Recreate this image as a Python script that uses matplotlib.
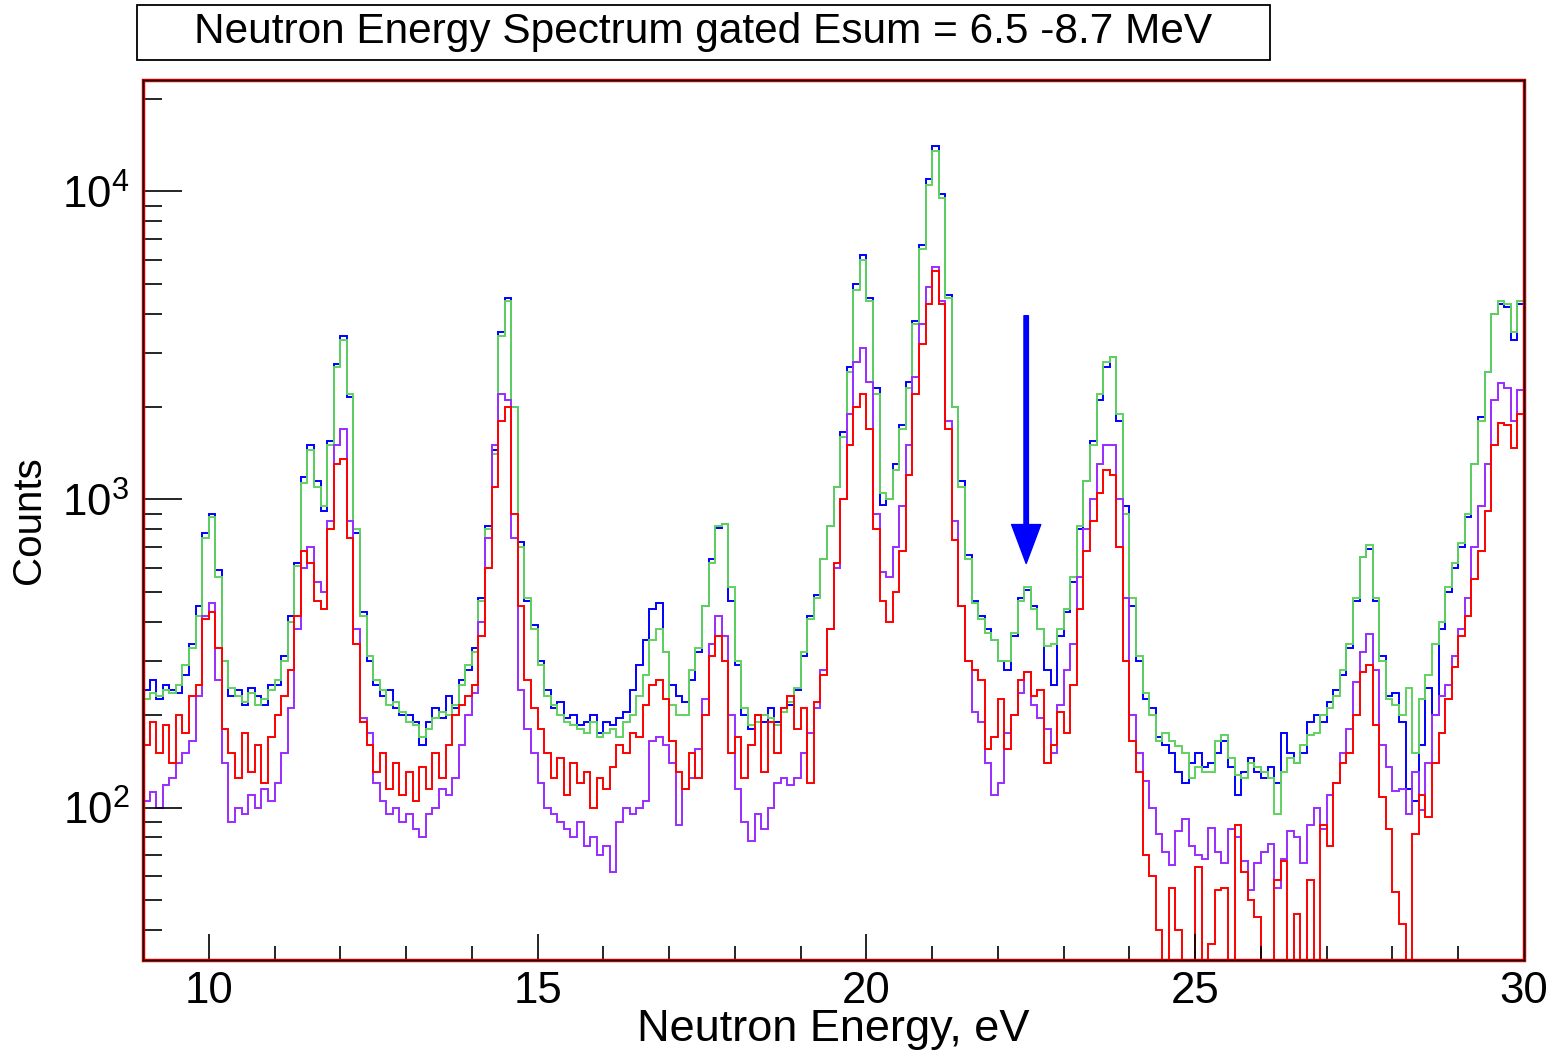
import numpy as np
import matplotlib
matplotlib.use("Agg")
import matplotlib.pyplot as plt
from matplotlib.patches import Rectangle
from matplotlib.ticker import MultipleLocator, LogLocator, LogFormatterSciNotation, NullFormatter

plt.rcParams['font.family'] = ['Liberation Sans', 'DejaVu Sans']

# histogram binning (0.1 eV bins from 9 to 30 eV)
e_lo, e_hi, bin_w = 9.0, 30.0, 0.1

# counts per bin, one row per eV
counts_blue = [
    240, 260, 225, 250, 240, 235, 270, 340, 450, 780,
    900, 590, 300, 230, 240, 215, 245, 230, 215, 250,
    250, 310, 420, 620, 1180, 1500, 1150, 920, 1550, 2750,
    3400, 2150, 780, 430, 300, 250, 230, 240, 210, 200,
    200, 190, 160, 190, 210, 195, 230, 210, 260, 280,
    330, 480, 820, 1450, 3500, 4500, 2000, 730, 470, 390,
    300, 240, 210, 220, 195, 200, 185, 190, 200, 175,
    190, 185, 195, 205, 240, 290, 350, 440, 460, 320,
    250, 230, 220, 260, 320, 450, 640, 810, 830, 470,
    290, 200, 180, 200, 190, 210, 190, 210, 215, 240,
    310, 420, 490, 640, 820, 1100, 1650, 2700, 5000, 6200,
    4500, 2300, 960, 1000, 1300, 1750, 2400, 3800, 6700, 11000,
    14000, 9800, 4600, 2000, 1150, 660, 470, 420, 380, 350,
    300, 280, 360, 480, 510, 450, 380, 280, 250, 360,
    430, 540, 800, 1150, 1550, 2100, 2700, 2900, 1800, 950,
    450, 300, 225, 210, 170, 160, 150, 130, 120, 140,
    150, 135, 140, 150, 165, 135, 110, 130, 145, 130,
    125, 135, 120, 175, 150, 140, 150, 190, 200, 190,
    220, 240, 270, 330, 470, 650, 690, 470, 310, 230,
    235, 190, 115, 105, 160, 245, 200, 380, 500, 600,
    700, 880, 1300, 1850, 2600, 4000, 4300, 4200, 3300, 4300,
]

counts_green = [
    225, 235, 230, 240, 235, 250, 290, 330, 420, 750,
    880, 560, 300, 245, 230, 220, 235, 215, 225, 240,
    260, 300, 400, 610, 1130, 1450, 1100, 950, 1500, 2700,
    3300, 2200, 800, 420, 310, 260, 240, 215, 220, 205,
    190, 185, 170, 180, 195, 205, 200, 215, 250, 290,
    320, 470, 800, 1400, 3400, 4400, 2000, 700, 480, 380,
    290, 230, 215, 200, 190, 185, 180, 175, 190, 170,
    175, 180, 170, 190, 200, 230, 270, 350, 380, 320,
    215, 200, 200, 280, 330, 450, 620, 820, 830, 520,
    300, 210, 185, 190, 200, 195, 185, 205, 220, 245,
    320, 410, 480, 640, 820, 1100, 1600, 2600, 4800, 6000,
    4400, 2200, 1050, 1000, 1250, 1700, 2300, 3700, 6500, 10500,
    13500, 9500, 4500, 2000, 1100, 640, 460, 410, 370, 350,
    300, 300, 370, 470, 520, 440, 380, 335, 340, 380,
    440, 560, 820, 1150, 1500, 2200, 2800, 2900, 1900, 900,
    480, 310, 235, 200, 165, 175, 165, 158, 150, 125,
    135, 130, 130, 165, 172, 145, 128, 125, 140, 135,
    130, 125, 95, 130, 145, 140, 160, 172, 175, 200,
    210, 230, 280, 340, 480, 650, 710, 480, 300, 225,
    215, 200, 245, 150, 225, 270, 340, 400, 520, 620,
    720, 900, 1300, 1800, 2600, 4000, 4400, 4300, 3500, 4400,
]

counts_violet = [
    105, 112, 100, 118, 125, 140, 150, 165, 230, 420,
    460, 260, 140, 90, 100, 95, 110, 100, 115, 105,
    120, 150, 210, 380, 600, 700, 540, 500, 850, 1500,
    1700, 850, 380, 195, 175, 120, 105, 95, 100, 90,
    95, 85, 80, 95, 100, 115, 110, 125, 160, 200,
    235, 400, 750, 1500, 2200, 2100, 750, 240, 180, 150,
    120, 100, 95, 90, 85, 80, 90, 75, 80, 70,
    75, 62, 90, 100, 95, 100, 105, 165, 170, 160,
    140, 88, 115, 125, 155, 225, 340, 420, 360, 200,
    115, 90, 78, 95, 85, 100, 120, 125, 118, 125,
    150, 175, 210, 280, 380, 600, 1000, 1900, 2800, 3100,
    2400, 900, 580, 560, 700, 950, 1500, 2500, 3700, 4900,
    5700, 4400, 1800, 850, 450, 300, 205, 190, 140, 110,
    120, 175, 200, 235, 275, 215, 195, 180, 150, 215,
    280, 340, 560, 800, 1000, 1300, 1500, 1500, 1000, 480,
    200, 150, 122, 100, 82, 72, 65, 84, 92, 75,
    70, 68, 86, 72, 66, 85, 80, 67, 54, 66,
    72, 76, 55, 68, 84, 80, 66, 88, 100, 85,
    110, 120, 150, 180, 255, 320, 365, 280, 160, 135,
    113, 115, 95, 130, 98, 140, 200, 230, 250, 310,
    380, 480, 700, 950, 1300, 2100, 2380, 2300, 1800, 2270,
]

counts_red = [
    160, 190, 150, 185, 140, 200, 175, 230, 250, 410,
    430, 330, 180, 150, 125, 175, 130, 160, 120, 170,
    200, 230, 280, 420, 680, 620, 470, 440, 800, 1300,
    1350, 750, 340, 190, 160, 130, 150, 115, 140, 110,
    130, 105, 135, 115, 150, 125, 160, 200, 215, 230,
    250, 360, 600, 1100, 1800, 2000, 900, 450, 260, 210,
    180, 150, 125, 145, 110, 140, 120, 130, 100, 125,
    115, 135, 160, 150, 175, 170, 215, 250, 260, 225,
    165, 130, 115, 150, 125, 200, 310, 360, 300, 150,
    170, 125, 160, 200, 130, 190, 150, 210, 230, 180,
    210, 120, 220, 270, 380, 620, 1000, 1500, 2000, 2200,
    1700, 800, 470, 400, 500, 680, 1200, 2200, 3200, 4300,
    5500, 4300, 1700, 740, 450, 300, 280, 260, 155, 170,
    225, 155, 200, 260, 275, 230, 240, 140, 160, 205,
    175, 250, 440, 680, 850, 1050, 1250, 1200, 700, 300,
    165, 130, 70, 60, 40, 0, 55, 40, 0, 0,
    64, 0, 36, 54, 55, 0, 88, 62, 50, 44,
    0, 0, 58, 67, 0, 45, 0, 58, 0, 88,
    75, 120, 140, 150, 200, 275, 290, 185, 108, 85,
    53, 42, 0, 82, 110, 93, 140, 175, 225, 285,
    360, 420, 550, 680, 920, 1500, 1770, 1750, 1470, 1900,
]

title = "Neutron Energy Spectrum gated Esum = 6.5 -8.7 MeV"
x_title = "Neutron Energy, eV"
y_title = "Counts"

# arrow marking the small peak
arrow_x = 22.43
arrow_top, arrow_tip = 3950, 620

edges = np.linspace(e_lo, e_hi, int(round((e_hi - e_lo) / bin_w)) + 1)

fig = plt.figure(figsize=(15.54, 10.54), dpi=100)
ax = fig.add_axes([143 / 1554, 1 - 960 / 1054, 1381 / 1554, 880 / 1054])
ax.set_yscale('log', nonpositive='clip')

series = [
    (counts_blue, '#0000ff'),
    (counts_green, '#5fd35f'),
    (counts_violet, '#9a2cff'),
    (counts_red, '#ff0000'),
]
for vals, col in series:
    v = np.asarray(vals, dtype=float)
    v[v <= 0] = 1e-3  # empty bins drop below the axis
    ax.stairs(v, edges, color=col, lw=1.4, baseline=None)

ax.annotate('', xy=(arrow_x, arrow_tip), xytext=(arrow_x, arrow_top),
            arrowprops=dict(facecolor='#0000ff', edgecolor='#0000ff',
                            width=3.2, headwidth=21, headlength=28, shrink=0))

ax.set_xlim(e_lo, e_hi)
ax.set_ylim(32, 23000)

ax.xaxis.set_major_locator(MultipleLocator(5))
ax.xaxis.set_minor_locator(MultipleLocator(1))
ax.yaxis.set_major_locator(LogLocator(base=10))
ax.yaxis.set_minor_locator(LogLocator(base=10, subs=range(2, 10)))
ax.yaxis.set_major_formatter(LogFormatterSciNotation())
ax.yaxis.set_minor_formatter(NullFormatter())

ax.tick_params(axis='x', which='major', direction='in', length=19, width=1.2,
               labelsize=31.5, pad=8, top=False)
ax.tick_params(axis='x', which='minor', direction='in', length=10, width=1.2, top=False)
ax.tick_params(axis='y', which='major', direction='in', length=28, width=1.2,
               labelsize=31.5, pad=10, right=False)
ax.tick_params(axis='y', which='minor', direction='in', length=14, width=1.2, right=False)

for s in ax.spines.values():
    s.set_color('black')
    s.set_linewidth(1.0)
    s.set_zorder(5)
ax.add_patch(Rectangle((0, 0), 1, 1, transform=ax.transAxes, fill=False,
                       edgecolor='#e00000', lw=2.5, zorder=4, clip_on=False))

ax.set_xlabel(x_title, fontsize=32.5)
ax.set_ylabel(y_title, fontsize=29)
ax.xaxis.set_label_coords(0.5, -0.056)
ax.yaxis.set_label_coords(-0.069, 0.5)

# title box
fig.patches.append(Rectangle((137 / 1554, 1 - 60 / 1054), 1133 / 1554, 55 / 1054,
                             transform=fig.transFigure, fill=True, facecolor='white',
                             edgecolor='black', lw=1.3))
fig.text(703 / 1554, 1 - 32 / 1054, title, ha='center', va='center', fontsize=30.5)

fig.savefig('out.png', dpi=100)
